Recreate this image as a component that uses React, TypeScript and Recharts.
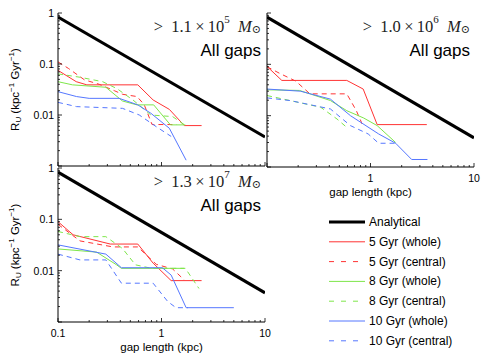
import { Legend, Line, LineChart, XAxis, YAxis } from 'recharts'

type Pt = { x: number; y: number }

const xTicks = [0.1, 0.2, 0.3, 0.4, 0.5, 0.6, 0.7, 0.8, 0.9, 1, 2, 3, 4, 5, 6, 7, 8, 9, 10]
const yTicks = [
  0.001, 0.002, 0.003, 0.004, 0.005, 0.006, 0.007, 0.008, 0.009,
  0.01, 0.02, 0.03, 0.04, 0.05, 0.06, 0.07, 0.08, 0.09,
  0.1, 0.2, 0.3, 0.4, 0.5, 0.6, 0.7, 0.8, 0.9, 1,
]
const yLabels = [0.01, 0.1, 1]
const xLabelsAll = [0.1, 1, 10]
const xLabelsRight = [1, 10]

const analytical: Pt[] = [{ x: 0.1, y: 0.83 }, { x: 10, y: 0.0037 }]

// > 1.1e5 Msun
const tl5Whole: Pt[] = [
  { x: 0.1, y: 0.075 }, { x: 0.15, y: 0.045 }, { x: 0.19, y: 0.039 }, { x: 0.59, y: 0.039 },
  { x: 0.83, y: 0.0197 }, { x: 1.19, y: 0.0129 }, { x: 1.66, y: 0.0062 }, { x: 2.44, y: 0.0062 },
]
const tl5Central: Pt[] = [
  { x: 0.1, y: 0.11 }, { x: 0.126, y: 0.082 }, { x: 0.18, y: 0.049 }, { x: 0.25, y: 0.04 },
  { x: 0.35, y: 0.03 }, { x: 0.42, y: 0.0255 }, { x: 0.58, y: 0.023 }, { x: 0.68, y: 0.016 },
  { x: 0.81, y: 0.0065 }, { x: 1.4, y: 0.0065 },
]
const tl8Whole: Pt[] = [
  { x: 0.1, y: 0.045 }, { x: 0.138, y: 0.039 }, { x: 0.29, y: 0.035 }, { x: 0.42, y: 0.0188 },
  { x: 0.58, y: 0.0158 }, { x: 0.84, y: 0.0158 }, { x: 1.22, y: 0.0064 }, { x: 1.7, y: 0.0064 },
]
const tl8Central: Pt[] = [
  { x: 0.1, y: 0.064 }, { x: 0.163, y: 0.055 }, { x: 0.27, y: 0.045 }, { x: 0.37, y: 0.033 },
  { x: 0.53, y: 0.0197 }, { x: 0.79, y: 0.01 }, { x: 1.28, y: 0.0093 }, { x: 1.73, y: 0.0061 },
]
const tl10Whole: Pt[] = [
  { x: 0.1, y: 0.0287 }, { x: 0.151, y: 0.023 }, { x: 0.2, y: 0.0212 }, { x: 0.39, y: 0.0212 },
  { x: 0.59, y: 0.0158 }, { x: 0.79, y: 0.0108 }, { x: 1.19, y: 0.0055 }, { x: 1.73, y: 0.0013 },
]
const tl10Central: Pt[] = [
  { x: 0.1, y: 0.0177 }, { x: 0.151, y: 0.0146 }, { x: 0.42, y: 0.0135 }, { x: 0.61, y: 0.01 },
  { x: 0.89, y: 0.0059 }, { x: 1.24, y: 0.0038 },
]

// > 1.0e6 Msun
const tr5Whole: Pt[] = [
  { x: 0.1, y: 0.091 }, { x: 0.139, y: 0.0486 }, { x: 0.59, y: 0.0486 }, { x: 0.85, y: 0.033 },
  { x: 1.16, y: 0.0067 }, { x: 3.5, y: 0.0067 },
]
const tr5Central: Pt[] = [
  { x: 0.1, y: 0.09 }, { x: 0.132, y: 0.067 }, { x: 0.19, y: 0.047 }, { x: 0.26, y: 0.0266 },
  { x: 0.59, y: 0.0266 }, { x: 0.73, y: 0.0125 }, { x: 0.83, y: 0.0069 },
]
const tr8Whole: Pt[] = [
  { x: 0.1, y: 0.0319 }, { x: 0.206, y: 0.031 }, { x: 0.41, y: 0.0197 }, { x: 0.59, y: 0.0125 },
  { x: 0.86, y: 0.009 }, { x: 1.16, y: 0.0064 }, { x: 1.75, y: 0.003 },
]
const tr8Central: Pt[] = [
  { x: 0.1, y: 0.0247 }, { x: 0.144, y: 0.021 }, { x: 0.33, y: 0.0146 }, { x: 0.475, y: 0.0086 },
  { x: 0.59, y: 0.0059 },
]
const tr10Whole: Pt[] = [
  { x: 0.1, y: 0.033 }, { x: 0.21, y: 0.03 }, { x: 0.41, y: 0.021 }, { x: 0.64, y: 0.01 },
  { x: 1.2, y: 0.0044 }, { x: 1.75, y: 0.0029 }, { x: 2.5, y: 0.0014 }, { x: 3.55, y: 0.0014 },
]
const tr10Central: Pt[] = [
  { x: 0.1, y: 0.0222 }, { x: 0.167, y: 0.0197 }, { x: 0.41, y: 0.0135 }, { x: 0.64, y: 0.0064 },
  { x: 0.95, y: 0.0044 }, { x: 1.2, y: 0.0029 }, { x: 1.75, y: 0.0029 },
]

// > 1.3e7 Msun
const bl5Whole: Pt[] = [
  { x: 0.1, y: 0.09 }, { x: 0.14, y: 0.05 }, { x: 0.32, y: 0.033 }, { x: 0.59, y: 0.033 },
  { x: 0.83, y: 0.014 }, { x: 1.24, y: 0.0064 }, { x: 2.44, y: 0.0064 },
]
const bl5Central: Pt[] = [
  { x: 0.1, y: 0.08 }, { x: 0.163, y: 0.038 }, { x: 0.34, y: 0.029 }, { x: 0.59, y: 0.029 },
  { x: 0.89, y: 0.0133 }, { x: 1.28, y: 0.0108 }, { x: 1.66, y: 0.0066 },
]
const bl8Whole: Pt[] = [
  { x: 0.1, y: 0.0265 }, { x: 0.236, y: 0.023 }, { x: 0.37, y: 0.0129 }, { x: 0.41, y: 0.0111 },
  { x: 1.66, y: 0.0111 },
]
const bl8Central: Pt[] = [
  { x: 0.1, y: 0.058 }, { x: 0.163, y: 0.046 }, { x: 0.29, y: 0.046 }, { x: 0.42, y: 0.027 },
  { x: 0.56, y: 0.013 }, { x: 0.8, y: 0.0111 }, { x: 1.7, y: 0.0111 }, { x: 2.3, y: 0.0045 },
]
const bl10Whole: Pt[] = [
  { x: 0.1, y: 0.0318 }, { x: 0.29, y: 0.021 }, { x: 0.41, y: 0.0114 }, { x: 1.02, y: 0.0114 },
  { x: 1.24, y: 0.0082 }, { x: 1.73, y: 0.0019 }, { x: 5.0, y: 0.0019 },
]
const bl10Central: Pt[] = [
  { x: 0.1, y: 0.021 }, { x: 0.163, y: 0.0162 }, { x: 0.29, y: 0.0162 }, { x: 0.41, y: 0.0057 },
  { x: 0.83, y: 0.0057 }, { x: 1.15, y: 0.0025 }, { x: 1.38, y: 0.0019 }, { x: 1.8, y: 0.0019 },
]

const RED = '#ff3333'
const GREEN = '#7ee64a'
const BLUE = '#5577ff'
const DASH = '5 4'
const SANS = '"Liberation Sans", Arial, sans-serif'
const SERIF = '"Liberation Serif", "DejaVu Serif", serif'

const styles = [
  { name: 'Analytical', color: '#000', width: 3, dash: undefined },
  { name: '5 Gyr (whole)', color: RED, width: 1, dash: undefined },
  { name: '5 Gyr (central)', color: RED, width: 1, dash: DASH },
  { name: '8 Gyr (whole)', color: GREEN, width: 1, dash: undefined },
  { name: '8 Gyr (central)', color: GREEN, width: 1, dash: DASH },
  { name: '10 Gyr (whole)', color: BLUE, width: 1, dash: undefined },
  { name: '10 Gyr (central)', color: BLUE, width: 1, dash: DASH },
]

const isMajor = (v: number) => Math.abs(Math.log10(v) - Math.round(Math.log10(v))) < 1e-6

function tickRenderer(side: 'left' | 'right' | 'top' | 'bottom', labels: number[]) {
  return (p: any) => {
    const v = p.payload.value
    const len = isMajor(v) ? 4 : 2
    const { x, y } = p
    const show = labels.some((l) => Math.abs(l - v) < 1e-9)
    let l = [x, y, x, y]
    let label = null
    if (side === 'left') {
      l = [x, y, x + len, y]
      if (show)
        label = (
          <text x={x - 4} y={y} textAnchor="end" dominantBaseline="central" fontSize={10.5} fontFamily={SANS} fill="#000">
            {String(v)}
          </text>
        )
    } else if (side === 'right') {
      l = [x, y, x - len, y]
    } else if (side === 'bottom') {
      l = [x, y, x, y - len]
      if (show)
        label = (
          <text x={x} y={y + 11} textAnchor="middle" dominantBaseline="central" fontSize={10.5} fontFamily={SANS} fill="#000">
            {String(v)}
          </text>
        )
    } else {
      l = [x, y, x, y + len]
    }
    return (
      <g>
        <line x1={l[0]} y1={l[1]} x2={l[2]} y2={l[3]} stroke="#000" strokeWidth={0.8} />
        {label}
      </g>
    )
  }
}

function LegendBox() {
  return (
    <svg width={160} height={142}>
      {styles.map((s, i) => {
        const cy = 10 + i * 19.8
        return (
          <g key={s.name}>
            <line
              x1={4}
              x2={40}
              y1={cy}
              y2={cy}
              stroke={s.color}
              strokeWidth={s.width}
              strokeDasharray={s.dash ? '5 7' : undefined}
            />
            <text x={44} y={cy} dominantBaseline="central" fontSize={12} fontFamily={SANS} fill="#000">
              {s.name}
            </text>
          </g>
        )
      })}
    </svg>
  )
}

type PanelProps = {
  left: number
  top: number
  width: number
  height: number
  margin: { top: number; right: number; bottom: number; left: number }
  yWidth: number
  xHeight: number
  lines: Pt[][]
  mant: string
  exp: string
  xLabels: number[]
  yLabelsShown: number[]
  yTitle?: boolean
  xTitle?: boolean
  legend?: boolean
}

function Panel(props: PanelProps) {
  const { left, top, width, height, margin, yWidth, xHeight, lines, mant, exp } = props
  const pl = margin.left + yWidth
  const pr = width - margin.right
  const pt = margin.top
  const pb = height - margin.bottom - xHeight
  const axisLine = { stroke: '#000', strokeWidth: 1 }
  return (
    <div style={{ position: 'absolute', left, top, width, height }}>
      <LineChart width={width} height={height} margin={margin}>
        <XAxis
          xAxisId="b"
          dataKey="x"
          type="number"
          scale="log"
          domain={[0.1, 10]}
          allowDataOverflow
          ticks={xTicks}
          interval={0}
          height={xHeight}
          tickSize={0}
          tickMargin={0}
          tickLine={false}
          axisLine={axisLine}
          tick={tickRenderer('bottom', props.xLabels)}
        />
        <XAxis
          xAxisId="t"
          orientation="top"
          type="number"
          scale="log"
          domain={[0.1, 10]}
          allowDataOverflow
          ticks={xTicks}
          interval={0}
          height={0}
          tickSize={0}
          tickMargin={0}
          tickLine={false}
          axisLine={axisLine}
          tick={tickRenderer('top', [])}
        />
        <YAxis
          yAxisId="l"
          type="number"
          scale="log"
          domain={[0.001, 1]}
          allowDataOverflow
          ticks={yTicks}
          interval={0}
          width={yWidth}
          tickSize={0}
          tickMargin={0}
          tickLine={false}
          axisLine={axisLine}
          tick={tickRenderer('left', props.yLabelsShown)}
        />
        <YAxis
          yAxisId="r"
          orientation="right"
          type="number"
          scale="log"
          domain={[0.001, 1]}
          allowDataOverflow
          ticks={yTicks}
          interval={0}
          width={0}
          tickSize={0}
          tickMargin={0}
          tickLine={false}
          axisLine={axisLine}
          tick={tickRenderer('right', [])}
        />
        {lines.map((d, i) => (
          <Line
            key={styles[i].name}
            xAxisId="b"
            yAxisId="l"
            data={d}
            dataKey="y"
            type="linear"
            stroke={styles[i].color}
            strokeWidth={styles[i].width}
            strokeDasharray={styles[i].dash}
            dot={false}
            activeDot={false}
            isAnimationActive={false}
          />
        ))}
        <text x={pr - 4} y={pt + 13} textAnchor="end" dominantBaseline="central" fontSize={16.5} fontFamily={SERIF} fill="#222">
          {'>\u2002' + mant + '\u2009×\u200910'}
          <tspan dy={-7} fontSize={11}>{exp}</tspan>
          <tspan dy={7} fontStyle="italic">{'\u2002M'}</tspan>
          <tspan dy={3} fontSize={11}>⊙</tspan>
        </text>
        <text x={pr - 4} y={pt + 37} textAnchor="end" dominantBaseline="central" fontSize={17} fontFamily={SANS} fill="#000">
          All gaps
        </text>
        {props.yTitle && (
          <text
            x={15}
            y={(pt + pb) / 2}
            transform={`rotate(-90 15 ${(pt + pb) / 2})`}
            textAnchor="middle"
            dominantBaseline="central"
            fontSize={11.5}
            fontFamily={SANS}
            fill="#000"
          >
            R<tspan dy={3} fontSize={8}>U</tspan>
            <tspan dy={-3}>{' (kpc'}</tspan>
            <tspan dy={-4} fontSize={8}>−1</tspan>
            <tspan dy={4}>{' Gyr'}</tspan>
            <tspan dy={-4} fontSize={8}>−1</tspan>
            <tspan dy={4}>)</tspan>
          </text>
        )}
        {props.xTitle && (
          <text x={(pl + pr) / 2} y={pb + 25} textAnchor="middle" dominantBaseline="central" fontSize={11.5} fontFamily={SANS} fill="#000">
            gap length (kpc)
          </text>
        )}
        {props.legend && (
          <Legend
            layout="vertical"
            align="center"
            verticalAlign="middle"
            wrapperStyle={{ left: 325, top: 52, width: 160 }}
            content={() => <LegendBox />}
          />
        )}
      </LineChart>
    </div>
  )
}

export default function App() {
  return (
    <div style={{ position: 'absolute', left: 0, top: 0, width: 485, height: 357, background: '#fff' }}>
      <Panel
        left={0}
        top={0}
        width={266}
        height={170}
        margin={{ top: 13, right: 1, bottom: 0, left: 0 }}
        yWidth={58}
        xHeight={4}
        lines={[analytical, tl5Whole, tl5Central, tl8Whole, tl8Central, tl10Whole, tl10Central]}
        mant="1.1"
        exp="5"
        xLabels={[]}
        yLabelsShown={yLabels}
        yTitle
      />
      <Panel
        left={240}
        top={0}
        width={245}
        height={200}
        margin={{ top: 13, right: 11, bottom: 0, left: 0 }}
        yWidth={27}
        xHeight={33}
        lines={[analytical, tr5Whole, tr5Central, tr8Whole, tr8Central, tr10Whole, tr10Central]}
        mant="1.0"
        exp="6"
        xLabels={xLabelsRight}
        yLabelsShown={[]}
        xTitle
      />
      <Panel
        left={0}
        top={160}
        width={485}
        height={197}
        margin={{ top: 8, right: 220, bottom: 0, left: 0 }}
        yWidth={58}
        xHeight={35}
        lines={[analytical, bl5Whole, bl5Central, bl8Whole, bl8Central, bl10Whole, bl10Central]}
        mant="1.3"
        exp="7"
        xLabels={xLabelsAll}
        yLabelsShown={yLabels}
        yTitle
        xTitle
        legend
      />
    </div>
  )
}
